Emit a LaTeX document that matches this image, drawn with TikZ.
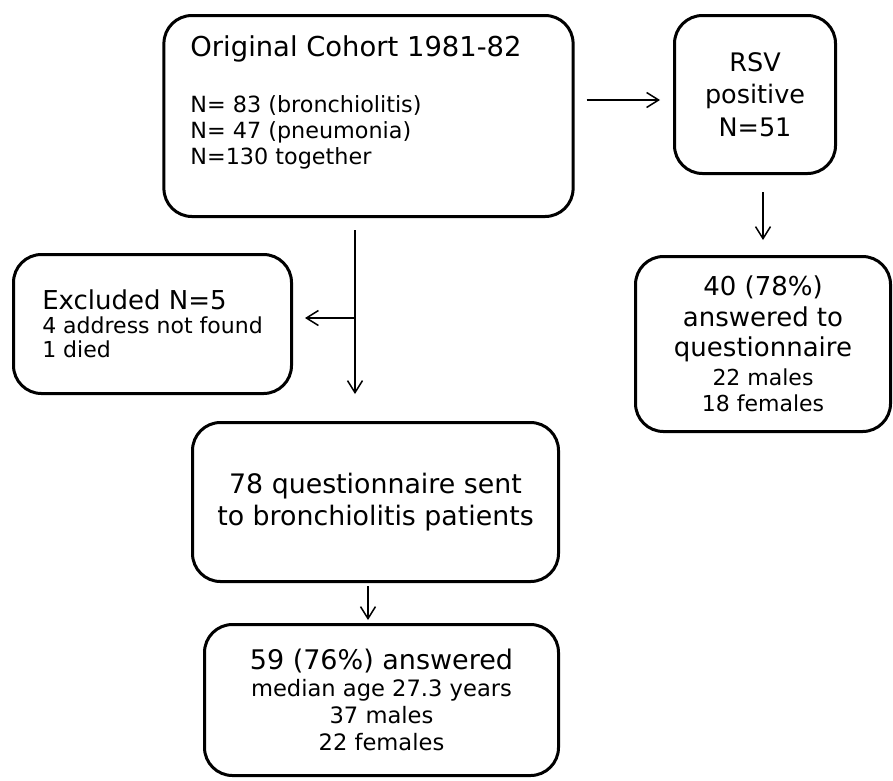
\documentclass[tikz,border=0pt]{standalone}
\usepackage{fontspec}
\setmainfont{DejaVu Sans}
\usepackage{tikz}
\usetikzlibrary{arrows.meta,calc,positioning}
\tikzstyle{flowbox} = [draw=black, line width=3pt, rectangle, rounded corners=28pt,
    inner sep=0pt, align=center]
\tikzstyle{flowline} = [draw=black, line width=1.5pt]
\tikzstyle{flowarrow} = [flowline, -{Straight Barb[length=12pt,width=15pt]}]

\begin{document}
\begin{tikzpicture}[x=1pt,y=-1pt]
\useasboundingbox (0,0) rectangle (893,780);
\node [flowbox, inner xsep=26.5pt, inner ysep=19.7pt] (orig) at (368.5,116) {%
    \begin{minipage}[c][161.6pt][t]{353pt}
    {\fontsize{27.4pt}{33pt}\selectfont Original Cohort 1981-82\par}
    \vspace{30pt}
    {\fontsize{22.3pt}{26pt}\selectfont N= 83 (bronchiolitis)\\
    N= 47 (pneumonia)\\
    N=130 together\par}
    \end{minipage}
};
\node [flowbox, minimum width=161pt, minimum height=158pt,
    font=\fontsize{25.5pt}{32.5pt}\selectfont] (rsv) at (755,94.5)
    {RSV\\positive\\N=51};
\node [flowbox, minimum width=255pt, minimum height=175pt,
    font=\fontsize{26pt}{26pt}\selectfont] (answ) at (763,344)
    {40 (78\%)\\[4.5pt]answered to\\[4.5pt]questionnaire\\[3pt]
    {\fontsize{22pt}{26pt}\selectfont 22 males}\\
    {\fontsize{22pt}{26pt}\selectfont 18 females}};
\node [flowbox, minimum width=278pt, minimum height=139pt, align=left,
    font=\fontsize{22pt}{24pt}\selectfont] (excl) at (152.5,324)
    {{\fontsize{26pt}{24pt}\selectfont Excluded N=5}\\
    4 address not found\\1 died};
\node [flowbox, minimum width=366pt, minimum height=159pt,
    font=\fontsize{26.8pt}{31.7pt}\selectfont] (sent) at (375.5,502)
    {78 questionnaire sent\\to bronchiolitis patients};
\node [flowbox, minimum width=354pt, minimum height=151pt,
    font=\fontsize{22.6pt}{27pt}\selectfont] (ans59) at (381.5,700)
    {{\fontsize{27pt}{27pt}\selectfont 59 (76\%) answered}\\
    median age 27.3 years\\37 males\\22 females};

% connectors
\coordinate (rsvin) at ([yshift=-5.5pt]rsv.west);
\coordinate (split) at (355,318);
\coordinate (ansin) at ([xshift=-13.5pt]ans59.north);
\draw [flowarrow, shorten <=12pt, shorten >=13pt] (rsvin -| orig.east) -- (rsvin);
\draw [flowarrow, shorten <=17pt, shorten >=15pt] (rsv.south -| answ.north) -- (answ.north);
\draw [flowarrow, shorten <=12pt, shorten >=27pt] (split |- orig.south) -- (split |- sent.north);
\draw [flowarrow, shorten >=12pt] (split) -- (split -| excl.east);
\draw [flowarrow, shorten <=3pt, shorten >=3pt] (ansin |- sent.south) -- (ansin);
\end{tikzpicture}
\end{document}
